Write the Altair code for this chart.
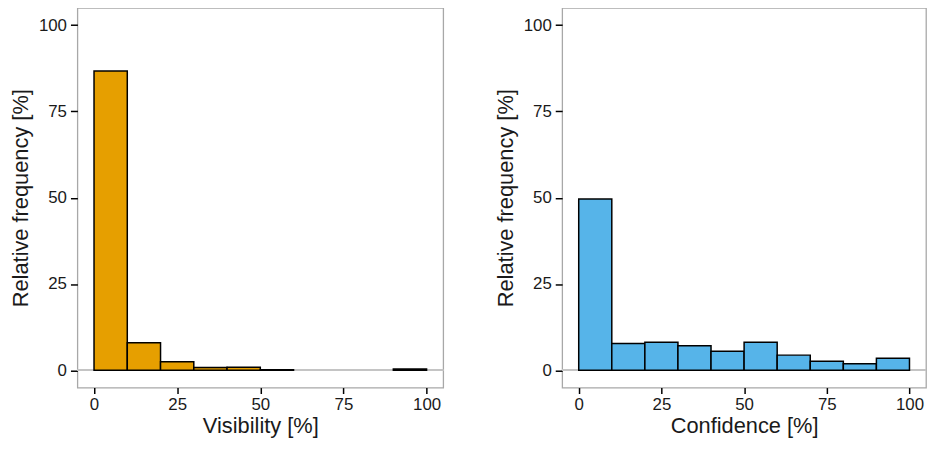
import altair as alt
import pandas as pd

bin_start = [0, 10, 20, 30, 40, 50, 60, 70, 80, 90]
bin_end = [10, 20, 30, 40, 50, 60, 70, 80, 90, 100]
visibility_freq = [86.7, 8.0, 2.5, 0.8, 0.9, 0.2, 0.0, 0.0, 0.0, 0.4]
confidence_freq = [49.6, 7.8, 8.1, 7.1, 5.5, 8.1, 4.4, 2.6, 1.9, 3.5]
ticks = [0, 25, 50, 75, 100]

FONT = "Liberation Sans"


def panel(freq, color, xtitle, w):
    df = pd.DataFrame({"start": bin_start, "end": bin_end, "freq": freq})
    xs = alt.Scale(domain=[-5, 105], nice=False, zero=False)
    ys = alt.Scale(domain=[-5, 105], nice=False, zero=False)
    base = alt.Chart(df)
    rule = base.mark_rule(color="#c4c4c4", strokeWidth=1.5).encode(
        y=alt.datum(0, scale=ys)
    )
    bars = base.transform_filter("datum.freq > 0").mark_rect(
        fill=color, stroke="black", strokeWidth=1.5
    ).encode(
        x=alt.X("start:Q", scale=xs, title=xtitle,
                axis=alt.Axis(values=ticks, grid=False, domain=False,
                              tickSize=6, tickColor="black", tickWidth=1.5,
                              labelPadding=3, titlePadding=3)),
        x2="end:Q",
        y=alt.Y("freq:Q", scale=ys, title="Relative frequency [%]",
                axis=alt.Axis(values=ticks, grid=False, domain=False,
                              tickSize=7, tickColor="black", tickWidth=1.5,
                              labelPadding=4, titlePadding=6)),
        y2=alt.datum(0),
    )
    return alt.layer(rule, bars).properties(width=w, height=383)


left = panel(visibility_freq, "#E69F00", "Visibility [%]", 369)
right = panel(confidence_freq, "#56B4E9", "Confidence [%]", 367)

chart = alt.hconcat(left, right, spacing=48).properties(
    padding={"left": 0, "top": -3, "right": 0, "bottom": 0}
).configure_view(
    stroke="#a8a8a8", strokeWidth=1.3
).configure_axis(
    labelFont=FONT, titleFont=FONT, labelFontSize=17, titleFontSize=22,
    labelColor="#1a1a1a", titleColor="#1a1a1a", titleFontWeight="normal"
)

chart.save("out.html", embed_options={"renderer": "svg", "actions": False})
